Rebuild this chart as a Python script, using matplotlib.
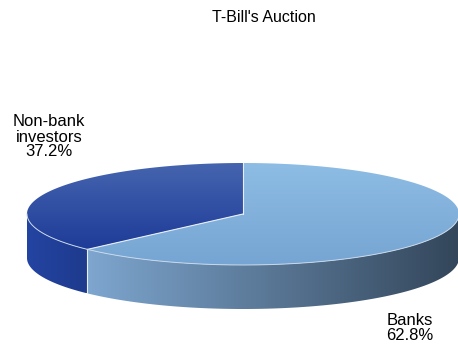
import numpy as np
import matplotlib.pyplot as plt
from matplotlib.patches import Polygon
from matplotlib.colors import LinearSegmentedColormap

# data
title = "T-Bill's Auction"
labels = ['Non-bank\ninvestors', 'Banks']
shares = [37.2, 62.8]

# colours: (top face light, top face dark), (side left, side right)
top_colors = [('#4665AF', '#1E3B98'), ('#8DBCE4', '#77A5D3')]
side_colors = [('#2444A2', '#1D3A8C'), ('#7EA6CF', '#33465A')]

fig = plt.figure(figsize=(4.58, 3.5), dpi=100)
ax = fig.add_axes([0, 0, 1, 1])
ax.axis('off')

# ellipse geometry in pixel units
cx, cy, a, b, depth = 243, 214, 216, 51, 44


def ell(t, dy=0):
    r = np.radians(t)
    return np.column_stack([cx + a * np.cos(r), cy - b * np.sin(r) + dy])


def grad_fill(verts, c1, c2, horizontal):
    poly = Polygon(verts, closed=True, facecolor='none', edgecolor='none')
    ax.add_patch(poly)
    g = np.linspace(0, 1, 256)
    arr = g.reshape(1, -1) if horizontal else g.reshape(-1, 1)
    cmap = LinearSegmentedColormap.from_list('g', [c1, c2])
    x0, y0 = verts.min(axis=0)
    x1, y1 = verts.max(axis=0)
    im = ax.imshow(arr, cmap=cmap, extent=(x0, x1, y1, y0), aspect='auto',
                   origin='upper', interpolation='bilinear', zorder=1)
    im.set_clip_path(poly)


# slice angles, starting at 12 o'clock, counter-clockwise
bounds = [90]
for s in shares:
    bounds.append(bounds[-1] + s / 100 * 360)

# sides (front half only: 180..360)
for i in range(len(shares)):
    t0, t1 = max(bounds[i], 180), min(bounds[i + 1], 360)
    if t1 <= t0:
        continue
    ts = np.linspace(t0, t1, 200)
    verts = np.vstack([ell(ts), ell(ts[::-1], depth)])
    grad_fill(verts, side_colors[i][0], side_colors[i][1], True)

# top faces
for i in range(len(shares)):
    ts = np.linspace(bounds[i], bounds[i + 1], 300)
    verts = np.vstack([[[cx, cy]], ell(ts)])
    grad_fill(verts, top_colors[i][0], top_colors[i][1], False)

# light edges
for t in bounds[:-1]:
    p = ell([t])[0]
    ax.plot([cx, p[0]], [cy, p[1]], color='#e8eef6', lw=0.8, zorder=3)
    if 180 < t % 360 < 360:
        ax.plot([p[0], p[0]], [p[1], p[1] + depth], color='#e8eef6', lw=0.8, zorder=3)
front = ell(np.linspace(180, 360, 300))
ax.plot(front[:, 0], front[:, 1], color='#c8d8ea', lw=0.7, zorder=3)

# text
ax.text(264, 17, title, ha='center', va='center', fontsize=11.5,
        family='Liberation Sans')
ax.text(49, 137, f'{labels[0]}\n{shares[0]}%', ha='center', va='center',
        fontsize=12, family='Liberation Sans', linespacing=1.0)
ax.text(410, 328, f'{labels[1]}\n{shares[1]}%', ha='center', va='center',
        fontsize=12, family='Liberation Sans', linespacing=1.0)

ax.set_xlim(0, 458)
ax.set_ylim(350, 0)
fig.savefig('out.png', dpi=100)
